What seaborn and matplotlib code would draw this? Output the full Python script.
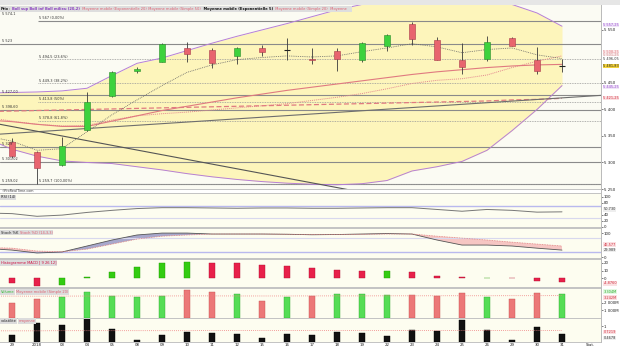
import numpy as np
import matplotlib
matplotlib.use("Agg")
import matplotlib.pyplot as plt
from matplotlib.patches import Rectangle
import seaborn as sns

sns.set_style("white")
plt.rcParams['font.family'] = ['DejaVu Sans']

# ---------------- data ----------------
day_labels = ["29", "2018", "03", "04", "05", "08", "09", "10", "11", "12", "15", "16",
              "17", "18", "19", "22", "23", "24", "25", "26", "29", "30", "31"]
open_ = [5339, 5320, 5295, 5361, 5425, 5472, 5490, 5516, 5513, 5501, 5515, 5512,
         5496, 5511, 5494, 5520, 5561, 5531, 5494, 5496, 5535, 5494, 5482]
high = [5347, 5321, 5348, 5432, 5473, 5480, 5526, 5528, 5516, 5518, 5522, 5535,
        5516, 5515, 5528, 5543, 5565, 5537, 5526, 5539, 5537, 5518, 5496]
low = [5308, 5260, 5293, 5360, 5423, 5468, 5489, 5490, 5479, 5486, 5500, 5494,
       5485, 5473, 5490, 5511, 5522, 5494, 5466, 5492, 5520, 5466, 5470]
close = [5313, 5289, 5331, 5415, 5471, 5476, 5524, 5505, 5488, 5516, 5509, 5513,
         5494, 5495, 5526, 5541, 5533, 5494, 5481, 5528, 5520, 5473, 5481.83]

# line indicators, first value belongs to the session before the first candle
boll_upper = [5431, 5432, 5433, 5435, 5440, 5464, 5487, 5497, 5511, 5525, 5538, 5550,
              5562, 5575, 5588, 5598, 5608, 5615, 5618, 5615, 5607, 5598, 5582, 5557]
boll_lower = [5345, 5325, 5312, 5303, 5300, 5298, 5292, 5286, 5279, 5273, 5268, 5264,
              5261, 5259, 5258, 5260, 5266, 5284, 5292, 5302, 5323, 5360, 5400, 5445]
boll_mid = [5385, 5378, 5372, 5369, 5370, 5380, 5388, 5392, 5395, 5399, 5403, 5407,
            5411, 5417, 5423, 5430, 5439, 5449, 5455, 5458, 5465, 5479, 5491, 5501]
ema20 = [5380, 5377, 5372, 5368, 5368, 5378, 5388, 5398, 5406, 5414, 5422, 5429,
         5436, 5442, 5448, 5454, 5460, 5466, 5471, 5475, 5479, 5482, 5484, 5485]
sma50 = [5396, 5397, 5398, 5399, 5400, 5401, 5402, 5403, 5404, 5405, 5406, 5407,
         5408, 5409, 5410, 5411, 5412, 5413, 5414, 5415, 5416, 5418, 5419, 5421]
ema5 = [5350, 5340, 5323, 5326, 5358, 5390, 5418, 5445, 5470, 5484, 5494, 5498,
        5501, 5499, 5501, 5509, 5516, 5524, 5518, 5507, 5513, 5516, 5503, 5496]

# horizontal levels (solid) and fibonacci levels (dotted)
level_values = [5523, 5427.00, 5398.60, 5329, 5301.02, 5259.02]
level_texts = ["5 523", "5 427,00", "5 398,60", "5 329", "5 301,02", "5 259,02"]
fib_values = [5567, 5494.5, 5449.3, 5413.8, 5378.8, 5259.7]
fib_texts = ["5 567 (0,00%)", "5 494,5 (23,6%)", "5 449,3 (38,2%)", "5 413,8 (50%)",
             "5 378,8 (61,8%)", "5 259,7 (100,00%)"]
# trend lines: (x index, price) anchors
trend_up_x = [-0.48, 23.56]
trend_up_y = [5353.5, 5426.6]
trend_down_x = [-0.48, 15.0]
trend_down_y = [5372.0, 5235.0]

rsi = [46, 44, 35, 39, 48, 55, 61, 64, 64, 63, 62, 63, 63, 62, 62, 63, 64, 64, 58, 52,
       58, 55, 49, 50]
stoch_k = [36, 29, 17, 21, 46, 71, 92, 100, 100, 96, 96, 96, 95, 93, 94, 96, 98, 96,
           71, 50, 50, 46, 37, 29]
stoch_d = [40, 37, 25, 22, 33, 54, 75, 87, 92, 96, 96, 96, 95, 94, 94, 95, 96, 96,
           87, 79, 71, 62, 54, 46]
macd_hist = [-7, -11, -9, 1, 8, 15, 20, 21, 20, 20, 17, 16, 13, 10.5, 9.5, 10, 8, 3,
             1, 0.6, 0.5, -4, -4.88]
macd_up = [0, 0, 1, 1, 1, 1, 1, 1, 0, 0, 0, 0, 0, 0, 0, 1, 0, 0, 0, 1, 0, 0, 0]
volume = [2.00, 2.55, 2.83, 3.52, 2.97, 2.83, 2.97, 3.79, 3.52, 3.24, 2.28, 2.83, 2.97,
          3.24, 3.24, 3.10, 3.10, 2.97, 3.38, 2.83, 2.55, 3.38, 3.30]
volume_up = [0, 0, 1, 1, 1, 1, 1, 0, 0, 1, 0, 1, 0, 1, 1, 1, 0, 0, 0, 1, 0, 0, 1]
volume_ma = [2.95, 2.95, 2.94, 2.95, 2.96, 2.96, 2.97, 2.97, 2.98, 2.98, 2.97, 2.97,
             2.97, 2.98, 2.98, 2.98, 2.99, 2.99, 3.00, 3.00, 3.00, 3.01, 3.01, 3.02]
volat = [0.44, 1.19, 1.06, 1.44, 0.81, 0.12, 0.44, 0.62, 0.56, 0.50, 0.25, 0.50, 0.44,
         0.62, 0.56, 0.37, 0.75, 0.69, 1.37, 0.75, 0.12, 0.94, 0.47]
volat_ma = [0.70, 0.70, 0.70, 0.71, 0.71, 0.71, 0.71, 0.71, 0.71, 0.72, 0.72, 0.72,
            0.72, 0.72, 0.72, 0.72, 0.72, 0.72, 0.72, 0.72, 0.72, 0.72, 0.72, 0.72]

# ---------------- layout ----------------
W, H = 620, 349
fig = plt.figure(figsize=(W / 100, H / 100), dpi=100)
fig.patch.set_facecolor("white")
FS = 2.9
BFS = 2.55


def pax(x0, y0, x1, y1):
    a = fig.add_axes([x0 / W, 1 - y1 / H, (x1 - x0) / W, (y1 - y0) / H])
    for s in a.spines.values():
        s.set_visible(False)
    a.set_xticks([])
    a.yaxis.tick_right()
    a.tick_params(axis="y", labelsize=FS, length=1.2, width=0.4, pad=0.8,
                  colors="#222222")
    return a


def vbox(a, v, t, c, bg):
    a.text(1.004, v, t, transform=a.get_yaxis_transform(), fontsize=BFS, color=c,
           va="center", ha="left", clip_on=False,
           bbox=dict(boxstyle="square,pad=0.08", fc=bg, ec="none"))


XL = (-0.48, 23.56)
n = len(close)
xi = np.arange(n)
xl = np.arange(-1, n)
SEP = "#c4c4c4"

# ---------- main price panel ----------
ax = pax(0, 5, 601, 189)
ax.set_facecolor("#fbfbf3")
ax.set_xlim(XL)
ax.set_ylim(5252.4, 5597)
ax.fill_between(xl, boll_lower, boll_upper, color="#fdf5bb", lw=0, zorder=0)
sns.lineplot(x=xl, y=boll_upper, ax=ax, color="#b67fd6", lw=0.7, zorder=2)
sns.lineplot(x=xl, y=boll_lower, ax=ax, color="#b67fd6", lw=0.7, zorder=2)
sns.lineplot(x=xl, y=boll_mid, ax=ax, color="#e48890", lw=0.7, ls=(0, (1, 1)), zorder=2)
sns.lineplot(x=xl, y=ema20, ax=ax, color="#e07a80", lw=0.8, zorder=2)
sns.lineplot(x=xl, y=sma50, ax=ax, color="#e07a80", lw=0.9, ls=(0, (4, 2)), zorder=2)
sns.lineplot(x=xl, y=ema5, ax=ax, color="#666666", lw=0.6, ls=(0, (1, 1.2)), zorder=3)

for v, t in zip(level_values, level_texts):
    ax.axhline(v, color="#8a8a8a", lw=0.8, zorder=1)
    ax.text(-0.42, v + 1.5, t, fontsize=2.5, color="#333333", va="bottom", zorder=8)
for k, (v, t) in enumerate(zip(fib_values, fib_texts)):
    if k == 0:
        ax.hlines(v, 1.04, XL[1], color="#8a8a8a", lw=0.8, zorder=1)
    else:
        ax.hlines(v, 1.04, XL[1], color="#999999", lw=0.6, ls=(0, (1, 1)), zorder=1)
    ax.text(1.08, v + 1.5, t, fontsize=2.5, color="#333333", va="bottom", zorder=8)
ax.text(-0.42, 5576, "5 574,1", fontsize=2.5, color="#333333", va="bottom")

sns.lineplot(x=trend_up_x, y=trend_up_y, ax=ax, color="#6e6e6e", lw=0.8, zorder=2)
sns.lineplot(x=trend_down_x, y=trend_down_y, ax=ax, color="#555555", lw=0.8, zorder=2)

for i in range(n):
    o, c = open_[i], close[i]
    ax.vlines(i, low[i], high[i], color="#3a3a3a", lw=0.6, zorder=5)
    if abs(c - o) < 1.5:
        ax.hlines(o, i - 0.13, i + 0.13, color="#222222", lw=0.8, zorder=6)
    else:
        up = c > o
        ax.bar(i, abs(c - o), bottom=min(o, c), width=0.24,
               color="#3dd23d" if up else "#e8646e",
               edgecolor="#2b8a2b" if up else "#a83a48", lw=0.4, zorder=6)

ax.set_yticks([5550, 5450, 5400, 5350, 5300, 5250])
ax.set_yticklabels(["5 550", "5 450", "5 400", "5 350", "5 300", "5 250"])
right_boxes = [(5559.5, "5 557,25", "#9a4fd0", "#efe4f8"),
               (5508.5, "5 508,25", "#e07a80", "#fbe9ea"),
               (5502.5, "5 501,25", "#d09090", "#fbe9ea"),
               (5496.05, "5 496,05", "#333333", "#ffffff"),
               (5481.83, "5 481,83", "#222222", "#f3d23a"),
               (5442.5, "5 445,25", "#9a4fd0", "#efe4f8"),
               (5421.25, "5 421,25", "#d03040", "#fbe0e2")]
for v, t, c, bg in right_boxes:
    vbox(ax, v, t, c, bg)

# ---------- RSI ----------
ax_rsi = pax(0, 194, 601, 227)
ax_rsi.set_facecolor("#fdfdf0")
ax_rsi.set_xlim(XL)
ax_rsi.set_ylim(-1, 110)
ax_rsi.axhline(70, color="#b9b9ee", lw=1.0)
ax_rsi.axhline(30, color="#d8d8ee", lw=0.8)
sns.lineplot(x=xl, y=rsi, ax=ax_rsi, color="#777777", lw=0.7)
ax_rsi.set_yticks([100, 80, 40, 20, 0])
ax_rsi.set_yticklabels(["100", "80", "40", "20", "0"])
vbox(ax_rsi, 58, "50,730", "#333333", "#eeeeee")

# ---------- Stochastic ----------
ax_st = pax(0, 229, 601, 258)
ax_st.set_facecolor("#fdfdf0")
ax_st.set_xlim(XL)
ax_st.set_ylim(-4, 117)
ax_st.axhline(80, color="#d8d8ee", lw=0.8)
ax_st.axhline(20, color="#b9b9ee", lw=1.0)
k_arr = np.array(stoch_k, float)
d_arr = np.array(stoch_d, float)
ax_st.fill_between(xl, k_arr, d_arr, where=k_arr >= d_arr, interpolate=True,
                   color="#8c8cc0", alpha=0.75, lw=0)
ax_st.fill_between(xl, k_arr, d_arr, where=k_arr < d_arr, interpolate=True,
                   color="#f4b4b4", alpha=0.75, lw=0)
sns.lineplot(x=xl, y=stoch_k, ax=ax_st, color="#555555", lw=0.6)
sns.lineplot(x=xl, y=stoch_d, ax=ax_st, color="#e08080", lw=0.6, ls=(0, (1, 1)))
ax_st.set_yticks([100, 0])
ax_st.set_yticklabels(["100", "0"])
vbox(ax_st, 52, "46,577", "#d03040", "#fbe0e2")
vbox(ax_st, 30, "29,989", "#333333", "#eeeeee")

# ---------- MACD histogram ----------
ax_m = pax(0, 260, 601, 287)
ax_m.set_facecolor("#fdfdf0")
ax_m.set_xlim(XL)
ax_m.set_ylim(-12, 24)
ax_m.bar(xi, macd_hist, width=0.24,
         color=["#33cc11" if u else "#e8204a" for u in macd_up],
         edgecolor=["#229900" if u else "#b01030" for u in macd_up], lw=0.3)
ax_m.set_yticks([20, 10, 0])
ax_m.set_yticklabels(["20", "10", "0"])
vbox(ax_m, -7, "-4,8760", "#d03040", "#fbe0e2")

# ---------- Volume ----------
ax_v = pax(0, 289, 601, 317.5)
ax_v.set_facecolor("#fdfdf0")
ax_v.set_xlim(XL)
ax_v.set_ylim(0, 3.93)
ax_v.bar(xi, volume, width=0.24,
         color=["#55dd55" if u else "#ec7878" for u in volume_up],
         edgecolor=["#33aa33" if u else "#c85050" for u in volume_up], lw=0.3)
sns.lineplot(x=xl, y=volume_ma, ax=ax_v, color="#f08080", lw=0.6, ls=(0, (1, 1.5)))
ax_v.set_yticks([2, 1])
ax_v.set_yticklabels(["2 000M", "1 000M"])
vbox(ax_v, 3.55, "3,304M", "#22aa22", "#e4f8e4")
vbox(ax_v, 2.75, "3,242M", "#d03040", "#fbe0e2")

# ---------- last panel ----------
ax_l = pax(0, 319, 601, 342)
ax_l.set_facecolor("#fdfdf0")
ax_l.set_xlim(XL)
ax_l.set_ylim(0, 1.44)
ax_l.bar(xi, volat, width=0.24, color="#111111", edgecolor="#000000", lw=0.3)
sns.lineplot(x=xl, y=volat_ma, ax=ax_l, color="#f08080", lw=0.6, ls=(0, (1, 1.5)))
ax_l.set_yticks([1])
ax_l.set_yticklabels(["1"])
vbox(ax_l, 0.62, "0,7219", "#d03040", "#fbe0e2")
vbox(ax_l, 0.25, "0,4678", "#333333", "#eeeeee")


# ---------- decorations ----------
def frect(x0, y0, x1, y1, color):
    fig.patches.append(Rectangle((x0 / W, 1 - y1 / H), (x1 - x0) / W, (y1 - y0) / H,
                                 transform=fig.transFigure, color=color, lw=0, zorder=5))


for y0, y1 in [(188.6, 189.6), (193, 194), (227, 229), (258, 260), (287, 289),
               (317.5, 319), (342, 343)]:
    frect(0, y0, 601, y1, SEP)
frect(601, 5, 601.6, 343, "#bbbbbb")
frect(0, 0, 620, 5, "#e6e6e6")
frect(0, 5.5, 352, 11.5, "#dedede")

fig.text(1 / W, 1 - 2.6 / H, "\u25a0", fontsize=3, color="#33bb33", va="center")
fig.text(7 / W, 1 - 2.6 / H, "CAC40 Index - Journalier : 5 481,83 (+0,03%) - 31 janv. 2018",
         fontsize=2.6, color="#222222", va="center")
fig.text(612 / W, 1 - 3 / H, "www.ProRealTime.com", fontsize=2.6, color="#333333",
         va="center", ha="right")
legend_parts = [("Prix", "#111111", "bold"), (": ", "#111111", "normal"),
                ("Boll sup Boll inf Boll milieu (20,2)", "#8a3fc0", "bold"),
                ("  Moyenne mobile (Exponentielle 20)", "#e06070", "normal"),
                ("  Moyenne mobile (Simple 50)", "#e06070", "normal"),
                ("  Moyenne mobile (Exponentielle 5)", "#111111", "bold"),
                ("  Moyenne mobile (Simple 20)", "#e06070", "normal"),
                ("  Moyenne", "#e06070", "normal")]
renderer = fig.canvas.get_renderer()
xpos = 1.0
for txt, col, wt in legend_parts:
    t = fig.text(xpos / W, 1 - 8.6 / H, txt, fontsize=2.6, color=col, weight=wt,
                 va="center", zorder=10)
    xpos += t.get_window_extent(renderer=renderer).width

fig.text(2 / W, 1 - 191.3 / H, "\u00a9ProRealTime.com", fontsize=2.4, color="#444444",
         va="center", zorder=10)


def panel_label(y, parts):
    x = 1.0
    for txt, col in parts:
        t = fig.text(x / W, 1 - y / H, txt, fontsize=2.6, color=col, va="center",
                     zorder=10, bbox=dict(boxstyle="square,pad=0.15", fc="#dcdcdc", ec="none"))
        x += t.get_window_extent(renderer=renderer).width + 1.5


panel_label(197.5, [("RSI (14)", "#222222")])
panel_label(232.5, [("Stoch %K", "#222222"), ("Stoch %D (14,3,3)", "#e06070")])
panel_label(263, [("Histogramme MACD [ 9 26 12]", "#d01040")])
panel_label(292, [("Volume", "#33bb33"), ("Moyenne mobile (Simple 20)", "#e06070")])
panel_label(321, [("volatilit\u00e9", "#222222"), ("moyenne", "#e06070")])

for i, lab in enumerate(day_labels):
    fig.text((12 + 25 * i) / W, 1 - 345.5 / H, lab, fontsize=2.8, color="#222222",
             ha="center", va="center")
fig.text(590 / W, 1 - 345.5 / H, "Stat.", fontsize=2.8, color="#222222",
         ha="center", va="center")

fig.savefig("out.png", dpi=100)
